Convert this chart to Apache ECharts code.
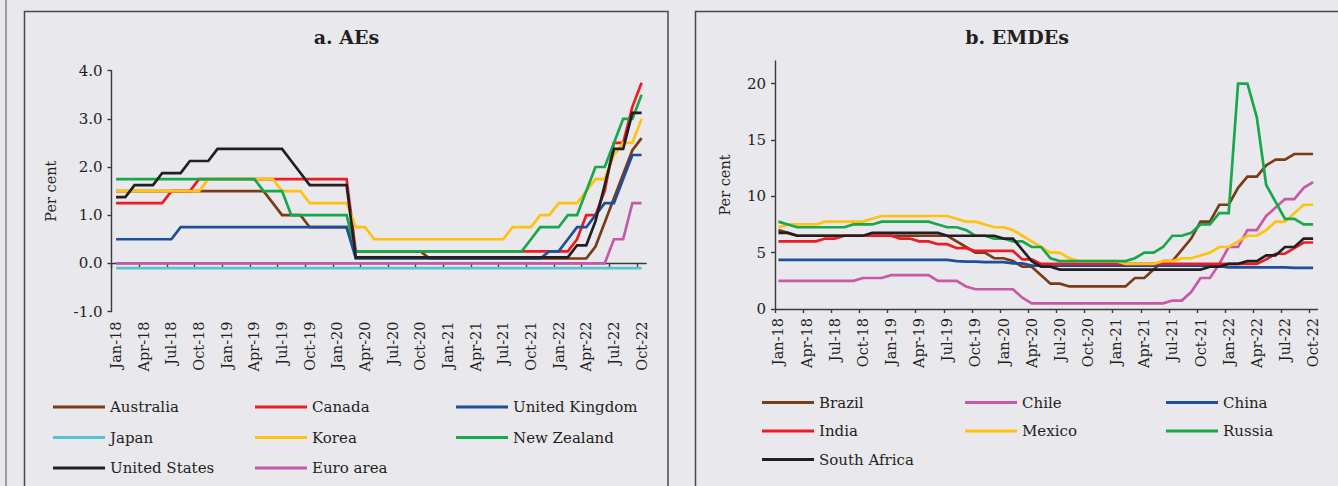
<!DOCTYPE html>
<html>
<head>
<meta charset="utf-8">
<title>Policy rates: AEs and EMDEs</title>
<script src="https://cdn.jsdelivr.net/npm/echarts@6/dist/echarts.min.js"></script>
<style>
  html, body { margin: 0; padding: 0; background: #e9e8ed; }
  #chart { width: 1338px; height: 486px; }
</style>
</head>
<body>
<div id="chart"></div>
<script>
// Month-end observations, Jan-18 .. Oct-22
const months = [
  'Jan-18','Feb-18','Mar-18','Apr-18','May-18','Jun-18','Jul-18','Aug-18','Sep-18','Oct-18','Nov-18','Dec-18',
  'Jan-19','Feb-19','Mar-19','Apr-19','May-19','Jun-19','Jul-19','Aug-19','Sep-19','Oct-19','Nov-19','Dec-19',
  'Jan-20','Feb-20','Mar-20','Apr-20','May-20','Jun-20','Jul-20','Aug-20','Sep-20','Oct-20','Nov-20','Dec-20',
  'Jan-21','Feb-21','Mar-21','Apr-21','May-21','Jun-21','Jul-21','Aug-21','Sep-21','Oct-21','Nov-21','Dec-21',
  'Jan-22','Feb-22','Mar-22','Apr-22','May-22','Jun-22','Jul-22','Aug-22','Sep-22','Oct-22'
];

// ---- Advanced economies (per cent) ----
const australia = [
  1.5,1.5,1.5,1.5,1.5,1.5,1.5,1.5,1.5,1.5,1.5,1.5,
  1.5,1.5,1.5,1.5,1.5,1.25,1.0,1.0,1.0,0.75,0.75,0.75,
  0.75,0.75,0.25,0.25,0.25,0.25,0.25,0.25,0.25,0.25,0.1,0.1,
  0.1,0.1,0.1,0.1,0.1,0.1,0.1,0.1,0.1,0.1,0.1,0.1,
  0.1,0.1,0.1,0.1,0.35,0.85,1.35,1.85,2.35,2.6
];
const canada = [
  1.25,1.25,1.25,1.25,1.25,1.25,1.5,1.5,1.5,1.75,1.75,1.75,
  1.75,1.75,1.75,1.75,1.75,1.75,1.75,1.75,1.75,1.75,1.75,1.75,
  1.75,1.75,0.25,0.25,0.25,0.25,0.25,0.25,0.25,0.25,0.25,0.25,
  0.25,0.25,0.25,0.25,0.25,0.25,0.25,0.25,0.25,0.25,0.25,0.25,
  0.25,0.25,0.5,1.0,1.0,1.5,2.5,2.5,3.25,3.75
];
const unitedKingdom = [
  0.5,0.5,0.5,0.5,0.5,0.5,0.5,0.75,0.75,0.75,0.75,0.75,
  0.75,0.75,0.75,0.75,0.75,0.75,0.75,0.75,0.75,0.75,0.75,0.75,
  0.75,0.75,0.1,0.1,0.1,0.1,0.1,0.1,0.1,0.1,0.1,0.1,
  0.1,0.1,0.1,0.1,0.1,0.1,0.1,0.1,0.1,0.1,0.1,0.25,
  0.25,0.5,0.75,0.75,1.0,1.25,1.25,1.75,2.25,2.25
];
const japan = [
  -0.1,-0.1,-0.1,-0.1,-0.1,-0.1,-0.1,-0.1,-0.1,-0.1,-0.1,-0.1,
  -0.1,-0.1,-0.1,-0.1,-0.1,-0.1,-0.1,-0.1,-0.1,-0.1,-0.1,-0.1,
  -0.1,-0.1,-0.1,-0.1,-0.1,-0.1,-0.1,-0.1,-0.1,-0.1,-0.1,-0.1,
  -0.1,-0.1,-0.1,-0.1,-0.1,-0.1,-0.1,-0.1,-0.1,-0.1,-0.1,-0.1,
  -0.1,-0.1,-0.1,-0.1,-0.1,-0.1,-0.1,-0.1,-0.1,-0.1
];
const korea = [
  1.5,1.5,1.5,1.5,1.5,1.5,1.5,1.5,1.5,1.5,1.75,1.75,
  1.75,1.75,1.75,1.75,1.75,1.75,1.5,1.5,1.5,1.25,1.25,1.25,
  1.25,1.25,0.75,0.75,0.5,0.5,0.5,0.5,0.5,0.5,0.5,0.5,
  0.5,0.5,0.5,0.5,0.5,0.5,0.5,0.75,0.75,0.75,1.0,1.0,
  1.25,1.25,1.25,1.5,1.75,1.75,2.25,2.5,2.5,3.0
];
const newZealand = [
  1.75,1.75,1.75,1.75,1.75,1.75,1.75,1.75,1.75,1.75,1.75,1.75,
  1.75,1.75,1.75,1.75,1.5,1.5,1.5,1.0,1.0,1.0,1.0,1.0,
  1.0,1.0,0.25,0.25,0.25,0.25,0.25,0.25,0.25,0.25,0.25,0.25,
  0.25,0.25,0.25,0.25,0.25,0.25,0.25,0.25,0.25,0.5,0.75,0.75,
  0.75,1.0,1.0,1.5,2.0,2.0,2.5,3.0,3.0,3.5
];
const unitedStates = [
  1.375,1.375,1.625,1.625,1.625,1.875,1.875,1.875,2.125,2.125,2.125,2.375,
  2.375,2.375,2.375,2.375,2.375,2.375,2.375,2.125,1.875,1.625,1.625,1.625,
  1.625,1.625,0.125,0.125,0.125,0.125,0.125,0.125,0.125,0.125,0.125,0.125,
  0.125,0.125,0.125,0.125,0.125,0.125,0.125,0.125,0.125,0.125,0.125,0.125,
  0.125,0.125,0.375,0.375,0.875,1.625,2.375,2.375,3.125,3.125
];
const euroArea = [
  0,0,0,0,0,0,0,0,0,0,0,0,
  0,0,0,0,0,0,0,0,0,0,0,0,
  0,0,0,0,0,0,0,0,0,0,0,0,
  0,0,0,0,0,0,0,0,0,0,0,0,
  0,0,0,0,0,0,0.5,0.5,1.25,1.25
];

// ---- Emerging market and developing economies (per cent) ----
const brazil = [
  7.0,6.75,6.5,6.5,6.5,6.5,6.5,6.5,6.5,6.5,6.5,6.5,
  6.5,6.5,6.5,6.5,6.5,6.5,6.5,6.0,5.5,5.0,5.0,4.5,
  4.5,4.25,3.75,3.75,3.0,2.25,2.25,2.0,2.0,2.0,2.0,2.0,
  2.0,2.0,2.75,2.75,3.5,4.25,4.25,5.25,6.25,7.75,7.75,9.25,
  9.25,10.75,11.75,11.75,12.75,13.25,13.25,13.75,13.75,13.75
];
const chile = [
  2.5,2.5,2.5,2.5,2.5,2.5,2.5,2.5,2.5,2.75,2.75,2.75,
  3.0,3.0,3.0,3.0,3.0,2.5,2.5,2.5,2.0,1.75,1.75,1.75,
  1.75,1.75,1.0,0.5,0.5,0.5,0.5,0.5,0.5,0.5,0.5,0.5,
  0.5,0.5,0.5,0.5,0.5,0.5,0.75,0.75,1.5,2.75,2.75,4.0,
  5.5,5.5,7.0,7.0,8.25,9.0,9.75,9.75,10.75,11.25
];
const china = [
  4.35,4.35,4.35,4.35,4.35,4.35,4.35,4.35,4.35,4.35,4.35,4.35,
  4.35,4.35,4.35,4.35,4.35,4.35,4.35,4.25,4.2,4.2,4.15,4.15,
  4.15,4.05,4.05,3.85,3.85,3.85,3.85,3.85,3.85,3.85,3.85,3.85,
  3.85,3.85,3.85,3.85,3.85,3.85,3.85,3.85,3.85,3.85,3.85,3.8,
  3.7,3.7,3.7,3.7,3.7,3.7,3.7,3.65,3.65,3.65
];
const india = [
  6.0,6.0,6.0,6.0,6.0,6.25,6.25,6.5,6.5,6.5,6.5,6.5,
  6.5,6.25,6.25,6.0,6.0,5.75,5.75,5.4,5.4,5.15,5.15,5.15,
  5.15,5.15,4.4,4.4,4.0,4.0,4.0,4.0,4.0,4.0,4.0,4.0,
  4.0,4.0,4.0,4.0,4.0,4.0,4.0,4.0,4.0,4.0,4.0,4.0,
  4.0,4.0,4.0,4.0,4.4,4.9,4.9,5.4,5.9,5.9
];
const mexico = [
  7.25,7.5,7.5,7.5,7.5,7.75,7.75,7.75,7.75,7.75,8.0,8.25,
  8.25,8.25,8.25,8.25,8.25,8.25,8.25,8.0,7.75,7.75,7.5,7.25,
  7.25,7.0,6.5,6.0,5.5,5.0,5.0,4.5,4.25,4.25,4.25,4.25,
  4.25,4.0,4.0,4.0,4.0,4.25,4.25,4.5,4.5,4.75,5.0,5.5,
  5.5,6.0,6.5,6.5,7.0,7.75,7.75,8.5,9.25,9.25
];
const russia = [
  7.75,7.5,7.25,7.25,7.25,7.25,7.25,7.25,7.5,7.5,7.5,7.75,
  7.75,7.75,7.75,7.75,7.75,7.5,7.25,7.25,7.0,6.5,6.5,6.25,
  6.25,6.0,6.0,5.5,5.5,4.5,4.25,4.25,4.25,4.25,4.25,4.25,
  4.25,4.25,4.5,5.0,5.0,5.5,6.5,6.5,6.75,7.5,7.5,8.5,
  8.5,20,20,17,11,9.5,8.0,8.0,7.5,7.5
];
const southAfrica = [
  6.75,6.75,6.5,6.5,6.5,6.5,6.5,6.5,6.5,6.5,6.75,6.75,
  6.75,6.75,6.75,6.75,6.75,6.75,6.5,6.5,6.5,6.5,6.5,6.5,
  6.25,6.25,5.25,4.25,3.75,3.75,3.5,3.5,3.5,3.5,3.5,3.5,
  3.5,3.5,3.5,3.5,3.5,3.5,3.5,3.5,3.5,3.5,3.75,3.75,
  4.0,4.0,4.25,4.25,4.75,4.75,5.5,5.5,6.25,6.25
];

// Axis tick labels
const aeTicks = [-1, 0, 1, 2, 3, 4];
const emdeTicks = [0, 5, 10, 15, 20];

const FONT = '"DejaVu Serif", "Liberation Serif", serif';
const INK = '#231f20';
const AXIS = '#3a3a3a';
const C = {
  brown: '#7a3b17', red: '#ed1c24', blue: '#1d4f9b', cyan: '#55c3d4',
  yellow: '#ffc20e', green: '#17a84b', black: '#231f20', magenta: '#c75aa6'
};

// Quarterly labels sit on Jan/Apr/Jul/Oct points
const quarterIdx = months.map((m, i) => i).filter(i => i % 3 === 0);
const monthName = v => months[Math.round(v)] || '';

const aeSeries = [
  { name: 'Australia', data: australia, color: C.brown, lx: 53, ly: 407 },
  { name: 'Canada', data: canada, color: C.red, lx: 255, ly: 407 },
  { name: 'United Kingdom', data: unitedKingdom, color: C.blue, lx: 456, ly: 407 },
  { name: 'Japan', data: japan, color: C.cyan, lx: 53, ly: 437.5 },
  { name: 'Korea', data: korea, color: C.yellow, lx: 255, ly: 437.5 },
  { name: 'New Zealand', data: newZealand, color: C.green, lx: 456, ly: 437.5 },
  { name: 'United States', data: unitedStates, color: C.black, lx: 53, ly: 468 },
  { name: 'Euro area', data: euroArea, color: C.magenta, lx: 255, ly: 468 }
];
const emdeSeries = [
  { name: 'Brazil', data: brazil, color: C.brown, lx: 762, ly: 402.5 },
  { name: 'Chile', data: chile, color: C.magenta, lx: 965, ly: 402.5 },
  { name: 'China', data: china, color: C.blue, lx: 1166, ly: 402.5 },
  { name: 'India', data: india, color: C.red, lx: 762, ly: 431 },
  { name: 'Mexico', data: mexico, color: C.yellow, lx: 965, ly: 431 },
  { name: 'Russia', data: russia, color: C.green, lx: 1166, ly: 431 },
  { name: 'South Africa', data: southAfrica, color: C.black, lx: 762, ly: 459.5 }
];

function lineSeries(s, xAxisIndex, yAxisIndex) {
  return {
    type: 'line', name: s.name, xAxisIndex, yAxisIndex,
    data: s.data.map((v, i) => [i, v]),
    symbol: 'none', showSymbol: false, silent: true, animation: false,
    lineStyle: { color: s.color, width: 2.7, cap: 'butt', join: 'miter' },
    itemStyle: { color: s.color }
  };
}

function legendFor(s) {
  return {
    data: [s.name], left: s.lx, top: s.ly - 9, padding: 0, itemGap: 0,
    icon: 'rect', itemWidth: 52, itemHeight: 3, selectedMode: false,
    textStyle: { fontFamily: FONT, fontSize: 15, color: INK, lineHeight: 18 }
  };
}

const axisText = { fontFamily: FONT, fontSize: 14.5, color: INK };
const valueText = { fontFamily: FONT, fontSize: 15, color: INK };
const axisLine = { color: AXIS, width: 1.4 };

const option = {
  animation: false,
  backgroundColor: '#e9e8ed',
  grid: [
    { left: 111.5, top: 70.7, width: 534.7, height: 240.8 },
    { left: 775, top: 61, width: 542.5, height: 248 }
  ],
  xAxis: [
    { // AE month axis drawn through zero
      gridIndex: 0, type: 'value', min: -0.5, max: 57.5,
      axisLine: { show: true, onZero: true, lineStyle: axisLine },
      axisTick: { show: true, length: 5, customValues: quarterIdx.map(i => i - 0.5), lineStyle: axisLine },
      axisLabel: { show: false }, splitLine: { show: false }
    },
    { // AE month labels below the plot
      gridIndex: 0, type: 'value', min: -0.5, max: 57.5, position: 'bottom',
      axisLine: { show: false, onZero: false }, axisTick: { show: false },
      axisLabel: Object.assign({ customValues: quarterIdx, rotate: 90, margin: 10, formatter: monthName }, axisText),
      splitLine: { show: false }
    },
    { // EMDE month axis
      gridIndex: 1, type: 'value', min: -0.37, max: 57.47,
      axisLine: { show: true, onZero: false, lineStyle: axisLine },
      axisTick: { show: true, length: 4, customValues: quarterIdx.map(i => i - 0.37), lineStyle: axisLine },
      axisLabel: Object.assign({ customValues: quarterIdx, rotate: 90, margin: 9, formatter: monthName }, axisText),
      splitLine: { show: false }
    }
  ],
  yAxis: [
    {
      gridIndex: 0, type: 'value', min: -1, max: 4, interval: 1,
      axisLine: { show: true, onZero: false, lineStyle: axisLine },
      axisTick: { show: true, length: 4, customValues: aeTicks, lineStyle: axisLine },
      axisLabel: Object.assign({ customValues: aeTicks, margin: 9, formatter: v => v.toFixed(1) }, valueText),
      splitLine: { show: false },
      name: 'Per cent', nameLocation: 'middle', nameRotate: 90, nameGap: 53,
      nameTextStyle: axisText
    },
    {
      gridIndex: 1, type: 'value', min: 0, max: 22,
      axisLine: { show: true, onZero: false, lineStyle: axisLine },
      axisTick: { show: true, length: 4, customValues: emdeTicks, lineStyle: axisLine },
      axisLabel: Object.assign({ customValues: emdeTicks, margin: 9 }, valueText),
      splitLine: { show: false },
      name: 'Per cent', nameLocation: 'middle', nameRotate: 90, nameGap: 43,
      nameTextStyle: axisText
    }
  ],
  legend: aeSeries.concat(emdeSeries).map(legendFor),
  series: aeSeries.map(s => lineSeries(s, 0, 0)).concat(emdeSeries.map(s => lineSeries(s, 2, 1))),
  graphic: [
    { type: 'line', silent: true, shape: { x1: 6, y1: 0, x2: 6, y2: 486 },
      style: { stroke: '#6a6a6a', lineWidth: 1.2 } },
    { type: 'rect', silent: true, shape: { x: 24.5, y: 11.5, width: 643.5, height: 520 },
      style: { fill: 'none', stroke: '#4a4a4a', lineWidth: 1.5 } },
    { type: 'rect', silent: true, shape: { x: 695.5, y: 11.5, width: 700, height: 520 },
      style: { fill: 'none', stroke: '#4a4a4a', lineWidth: 1.5 } },
    { type: 'text', silent: true, x: 346.5, y: 37,
      style: { text: 'a. AEs', fontFamily: FONT, fontSize: 19, fontWeight: 'bold', fill: INK, align: 'center', verticalAlign: 'middle' } },
    { type: 'text', silent: true, x: 1017, y: 37,
      style: { text: 'b. EMDEs', fontFamily: FONT, fontSize: 19, fontWeight: 'bold', fill: INK, align: 'center', verticalAlign: 'middle' } }
  ]
};

const chart = echarts.init(document.getElementById('chart'), null, { renderer: 'svg' });
chart.setOption(option);
</script>
</body>
</html>
